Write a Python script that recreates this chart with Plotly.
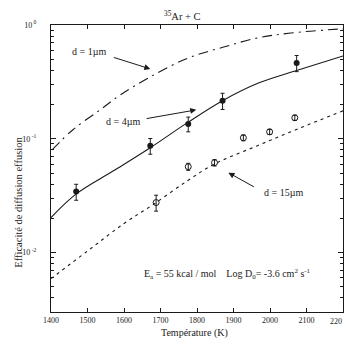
import plotly.graph_objects as go
import numpy as np

# ---- data ----
# model curves (Temperature K, efficiency)
t_d1 = [1403, 1460, 1535, 1590, 1672, 1774, 1873, 1966, 2057, 2186, 2200]
e_d1 = [0.080, 0.12, 0.18, 0.243, 0.35, 0.51, 0.64, 0.77, 0.85, 0.92, 0.925]

t_d4 = [1400, 1470, 1570, 1672, 1776, 1870, 1970, 2075, 2200]
e_d4 = [0.0203, 0.0329, 0.052, 0.0834, 0.14, 0.216, 0.31, 0.40, 0.535]

t_d15 = [1400, 1500, 1600, 1680, 1774, 1848, 1966, 2076, 2200]
e_d15 = [0.0059, 0.0103, 0.0180, 0.0264, 0.0428, 0.0600, 0.087, 0.122, 0.176]

# measured points
t_full = [1469, 1672, 1776, 1870, 2073]
e_full = [0.0343, 0.0868, 0.135, 0.216, 0.464]
err_full = [0.0055, 0.0137, 0.02, 0.035, 0.075]

t_open = [1688, 1776, 1848, 1927, 1999, 2068]
e_open = [0.0275, 0.0568, 0.0616, 0.102, 0.115, 0.153]
err_open = [0.0044, 0.004, 0.004, 0.006, 0.006, 0.008]

x_ticks = [1400, 1500, 1600, 1700, 1800, 1900, 2000, 2100, 2200]
x_ticktext = ["1400", "1500", "1600", "1700", "1800", "1900", "2000", "2100", ""]
x_last_label = "220"
y_ticks = [0.01, 0.1, 1]
y_ticktext = ["10<sup> -2</sup>", "10<sup> -1</sup>", "10<sup> 0</sup>"]
y_minor = [m * d for d in [0.001, 0.01, 0.1] for m in range(2, 10)]

FONT = "Liberation Serif"
INK = "#1a1a1a"

fig = go.Figure()
fig.add_trace(go.Scatter(x=t_d1, y=e_d1, mode="lines",
                         line=dict(color=INK, width=1.1, dash="10px,5px,2px,5px", shape="spline")))
fig.add_trace(go.Scatter(x=t_d4, y=e_d4, mode="lines",
                         line=dict(color=INK, width=1.1, shape="spline")))
fig.add_trace(go.Scatter(x=t_d15, y=e_d15, mode="lines",
                         line=dict(color=INK, width=1.1, dash="3px,4px", shape="spline")))
fig.add_trace(go.Scatter(x=t_full, y=e_full, mode="markers",
                         marker=dict(symbol="circle", size=6, color=INK),
                         error_y=dict(type="data", array=err_full, color=INK, thickness=1, width=2)))
fig.add_trace(go.Scatter(x=t_open, y=e_open, mode="markers",
                         marker=dict(symbol="circle-open", size=6, color=INK, line=dict(width=1)),
                         error_y=dict(type="data", array=err_open, color=INK, thickness=1, width=2)))

def arrow(xh, yh, xt, yt):
    fig.add_annotation(x=xh, y=yh, ax=xt, ay=yt, xref="x", yref="y", axref="x", ayref="y",
                       text="", showarrow=True, arrowhead=2, arrowsize=1.2, arrowwidth=1,
                       arrowcolor=INK)

def label(x, y, txt, size=10, xanchor="center"):
    fig.add_annotation(x=x, y=y, xref="x", yref="y", text=txt, showarrow=False,
                       xanchor=xanchor, font=dict(family=FONT, size=size, color=INK))

label(1504, -0.237, "d = 1µm")
arrow(1672, -0.386, 1568, -0.281)
label(1598, -0.851, "d = 4µm")
arrow(1798, -0.746, 1658, -0.825)
label(2037, -1.474, "d = 15µm")
arrow(1886, -1.298, 1960, -1.43)
label(1650, -2.193, "E<sub>a</sub> = 55 kcal / mol    Log D<sub>0</sub>= -3.6 cm<sup>2</sup> s<sup>-1</sup>",
      size=10, xanchor="left")

fig.add_annotation(x=1.005, y=0, xref="paper", yref="paper", xanchor="right", yanchor="top",
                   yshift=-3, showarrow=False, text=x_last_label,
                   font=dict(family=FONT, size=8, color=INK))
fig.add_annotation(x=0.452, y=1.063, xref="paper", yref="paper", showarrow=False,
                   text="<sup>35</sup>Ar + C", font=dict(family=FONT, size=10.5, color=INK))
fig.add_annotation(x=0.493, y=-0.101, xref="paper", yref="paper", showarrow=False,
                   text="Température (K)", font=dict(family=FONT, size=10, color=INK))
fig.add_annotation(x=-0.14, y=0.383, xref="paper", yref="paper", showarrow=False,
                   textangle=-90, text="Efficacité de diffusion effusion",
                   font=dict(family=FONT, size=10.5, color=INK))

fig.update_xaxes(range=[1400, 2200], tickvals=x_ticks, ticktext=x_ticktext,
                 ticks="inside", ticklen=4, tickcolor=INK, mirror="ticks",
                 showline=True, linecolor=INK, linewidth=1, showgrid=False, zeroline=False,
                 tickfont=dict(family=FONT, size=8, color=INK))
fig.update_yaxes(type="log", range=[np.log10(0.003), 0], tickvals=y_ticks, ticktext=y_ticktext,
                 ticks="inside", ticklen=5, tickcolor=INK, mirror="ticks",
                 minor=dict(tickvals=y_minor, ticks="inside", ticklen=3, tickcolor=INK, showgrid=False),
                 showline=True, linecolor=INK, linewidth=1, showgrid=False, zeroline=False,
                 ticklabelstandoff=12,
                 tickfont=dict(family=FONT, size=8, color=INK))

fig.update_layout(width=345, height=348, margin=dict(l=51, r=2, t=25, b=36),
                  paper_bgcolor="white", plot_bgcolor="white", showlegend=False)

fig.write_html("out.html")
